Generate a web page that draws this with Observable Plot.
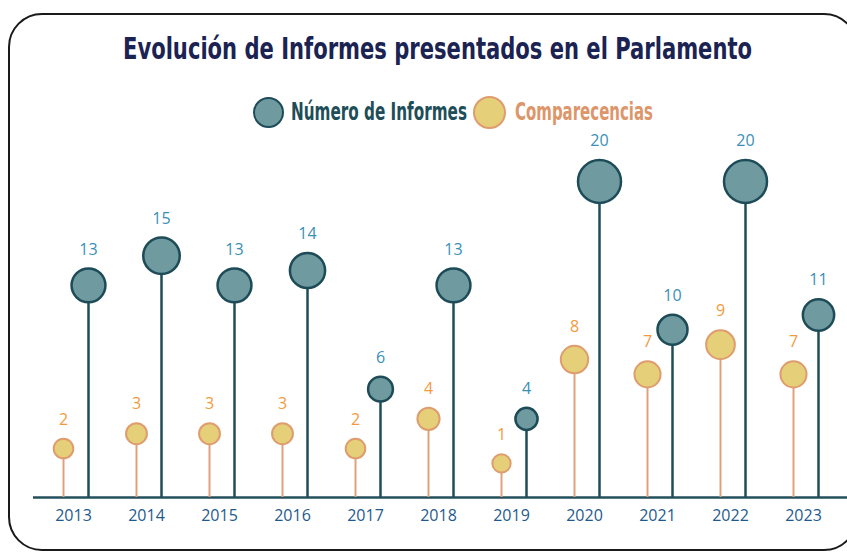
<!DOCTYPE html>
<html><head><meta charset="utf-8">
<script src="https://cdn.jsdelivr.net/npm/d3@7"></script>
<script src="https://cdn.jsdelivr.net/npm/@observablehq/plot@0.6"></script>
<style>
body{margin:0;background:#fff;width:847px;height:552px;overflow:hidden;position:relative;font-family:"Open Sans",sans-serif}
#frame{position:absolute;left:8px;top:13px;width:850px;height:538px;border:2px solid #1a1a1a;border-radius:34px;box-sizing:border-box}
#chart{position:absolute;left:0;top:140px}
.ht{position:absolute;white-space:nowrap;transform-origin:0 0;font-family:"Liberation Sans Narrow","DejaVu Sans Condensed",sans-serif;font-weight:bold;line-height:1}
.lc{position:absolute;border-radius:50%;box-sizing:border-box;border-width:2.5px;border-style:solid}
</style></head><body>
<div id="frame"></div>
<div id="head"></div>
<div id="chart"></div>
<script>
const years = ["2013","2014","2015","2016","2017","2018","2019","2020","2021","2022","2023"];
const informes = [13,15,13,14,6,13,4,20,10,20,11];
const comparecencias = [2,3,3,3,2,4,1,8,7,9,7];
const title = "Evolución de Informes presentados en el Parlamento";
const seriesNames = ["Número de Informes","Comparecencias"];

const colInfFill = "#6e9aa0", colInfStroke = "#1d4b57", colInfLabel = "#3a8fb7";
const colComFill = "#e5cf78", colComStroke = "#df9c6e", colComLabel = "#f39a3c";

// Header: title + legend (HTML text squeezed to the reference widths)
const head = d3.select("#head");
function hText(str, left, top, size, color, targetW) {
  const el = head.append("div").attr("class", "ht")
    .style("left", left + "px").style("top", top + "px")
    .style("font-size", size + "px").style("color", color).text(str);
  const w = el.node().getBoundingClientRect().width;
  el.style("transform", `scaleX(${targetW / w})`);
}
function hCircle(cx, cy, r, fill, stroke) {
  head.append("div").attr("class", "lc")
    .style("left", (cx - r) + "px").style("top", (cy - r) + "px")
    .style("width", 2 * r + "px").style("height", 2 * r + "px")
    .style("background", fill).style("border-color", stroke);
}
hText(title, 123, 34, 30, "#1b2352", 629);
hCircle(268, 112, 15.5, colInfFill, colInfStroke);
hText(seriesNames[0], 291, 99, 25, "#1e4e58", 176);
hCircle(489, 112, 16.5, colComFill, colComStroke);
hText(seriesNames[1], 515, 99, 25, "#dd956a", 138);

const inf = years.map((y, i) => ({year: y, v: informes[i]}));
const com = years.map((y, i) => ({year: y, v: comparecencias[i]}));
const base = -1.3;
const rOpts = {type: "linear", domain: [0, 20], range: [8.5, 21.5]};
const rScale = Plot.scale({r: rOpts});
const gap = 19;

const labels = (data, dx, color) => data.map(d => Plot.text([d], {
  x: "year", y: "v", text: d => String(d.v), dx, dy: -(rScale.apply(d.v) + gap),
  fill: color, fontSize: 16, lineAnchor: "middle", textAnchor: "middle"
}));

const chart = Plot.plot({
  width: 847, height: 412,
  marginLeft: 33, marginRight: 0, marginTop: 0, marginBottom: 55,
  style: {fontFamily: '"Open Sans", sans-serif', background: "transparent", overflow: "visible"},
  x: {type: "point", domain: years, range: [71, 805], padding: 0, tickSize: 0, tickPadding: 12, label: null},
  y: {domain: [base, 20], range: [357, 41], axis: null},
  r: rOpts,
  marks: [
    Plot.ruleY([base], {stroke: "#23505c", strokeWidth: 2.5}),
    Plot.ruleX(com, {x: "year", y1: base, y2: "v", dx: -10, stroke: "#e0a07c", strokeWidth: 2}),
    Plot.dot(com, {x: "year", y: "v", r: "v", dx: -10, fill: colComFill, stroke: colComStroke, strokeWidth: 2, fillOpacity: 1}),
    Plot.ruleX(inf, {x: "year", y1: base, y2: "v", dx: 15, stroke: "#1e4d58", strokeWidth: 2.5}),
    Plot.dot(inf, {x: "year", y: "v", r: "v", dx: 15, fill: colInfFill, stroke: colInfStroke, strokeWidth: 2.5, fillOpacity: 1}),
    ...labels(com, -10, colComLabel),
    ...labels(inf, 15, colInfLabel)
  ]
});
d3.select(chart).selectAll("g[aria-label='x-axis tick label']").attr("fill", "#1f5a8c").style("font-size", "16px");
document.getElementById("chart").appendChild(chart);
</script>
</body></html>
